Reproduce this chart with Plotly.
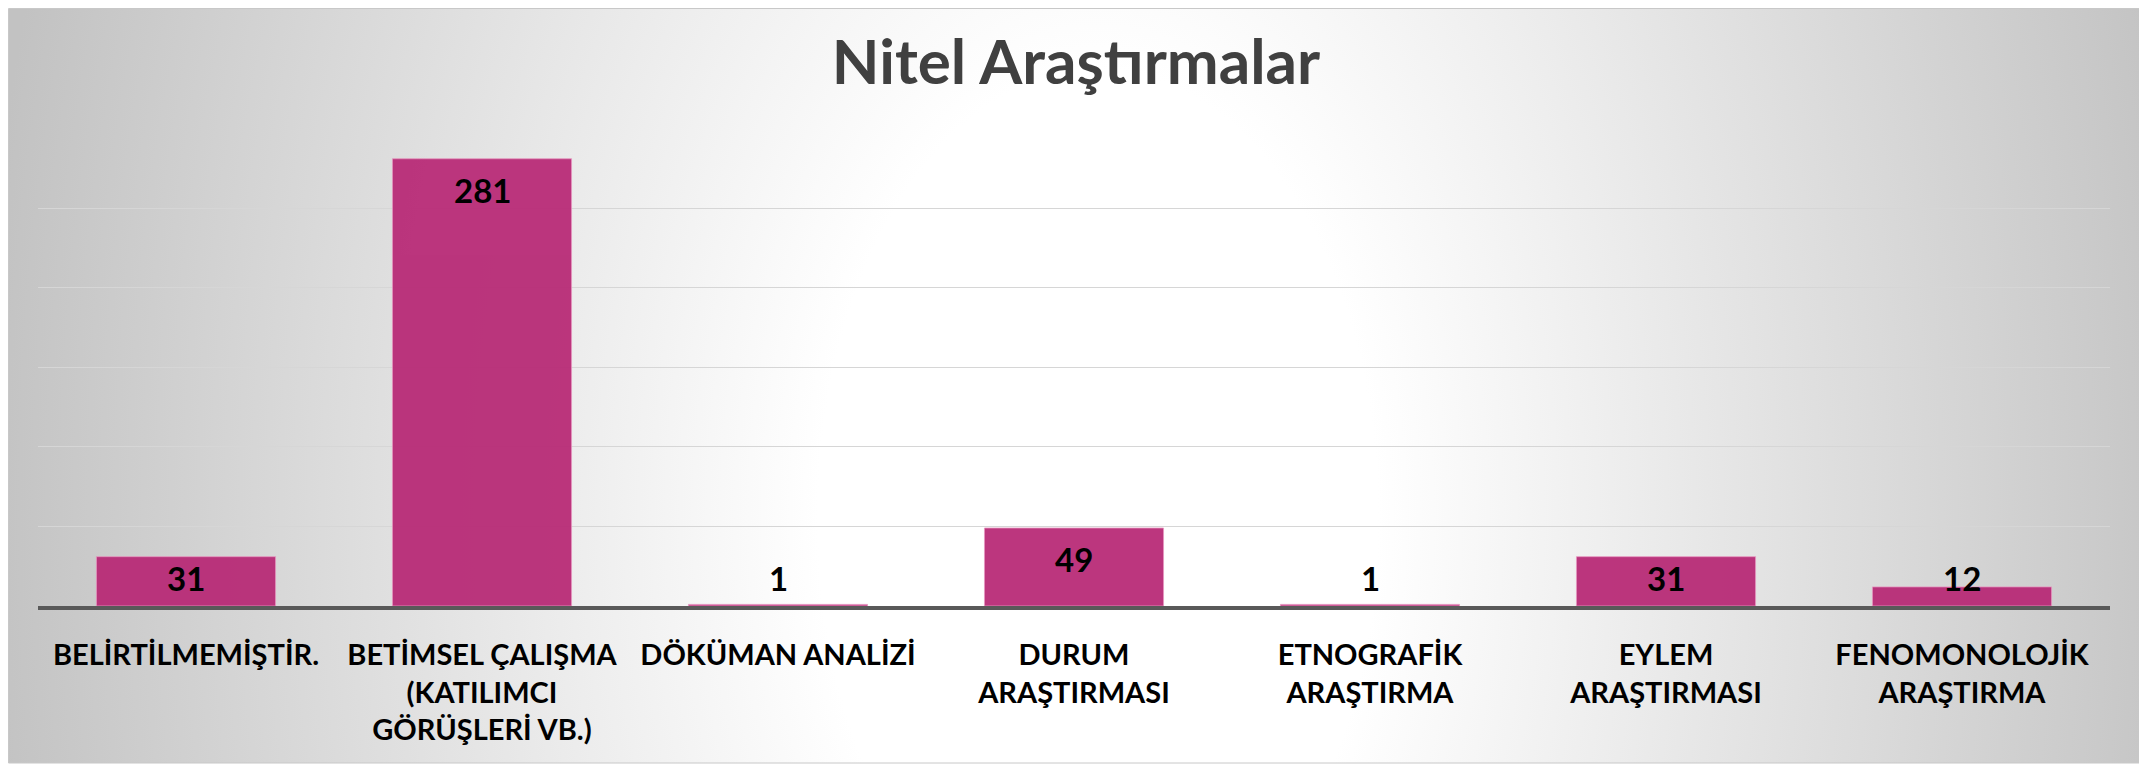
import base64
import plotly.graph_objects as go

# page body has an 8px margin: work in figure px = screen px - OFF
OFF = 8
W, H = 2147 - OFF, 764 - OFF

categories = [
    "BELİRTİLMEMİŞTİR.",
    "BETİMSEL ÇALIŞMA<br>(KATILIMCI<br>GÖRÜŞLERİ VB.)",
    "DÖKÜMAN ANALİZİ",
    "DURUM<br>ARAŞTIRMASI",
    "ETNOGRAFİK<br>ARAŞTIRMA",
    "EYLEM<br>ARAŞTIRMASI",
    "FENOMONOLOJİK<br>ARAŞTIRMA",
]
values = [31, 281, 1, 49, 1, 31, 12]
y_ticks = [0, 50, 100, 150, 200, 250, 300]
title_text = "Nitel Araştırmalar"

FONT = "Lato, 'Open Sans', 'DejaVu Sans', sans-serif"

# plot area in screen pixels -> figure pixels
pl, pr, pt, pb = 38 - OFF, 2110 - OFF, 128.5 - OFF, 606 - OFF
x_dom = [pl / W, pr / W]
y_dom = [(H - pb) / H, (H - pt) / H]

# background gradient (decoration only)
svg = '''<svg xmlns="http://www.w3.org/2000/svg" width="2134" height="756" viewBox="0 0 2134 756" preserveAspectRatio="none">
<defs><radialGradient id="g" gradientUnits="userSpaceOnUse" cx="1090" cy="510" r="1120"
 gradientTransform="translate(1090 510) scale(1 1.6) translate(-1090 -510)">
<stop offset="0" stop-color="#ffffff"/><stop offset="0.25" stop-color="#ffffff"/>
<stop offset="1" stop-color="#c2c2c2"/></radialGradient></defs>
<rect x="0" y="0" width="2134" height="756" fill="url(#g)"/></svg>'''
src = "data:image/svg+xml;base64," + base64.b64encode(svg.encode()).decode()

fig = go.Figure()
fig.add_trace(go.Bar(
    x=categories, y=values,
    marker=dict(color="#B82A76", opacity=0.94, line=dict(color="#E690BD", width=0.8)),
    width=0.605, hoverinfo="skip",
))

# data labels (inside end, clamped above baseline for short bars)
LABEL_MIN = 37
for c, v in zip(categories, values):
    fig.add_annotation(
        x=c, y=max(v, LABEL_MIN), yshift=-31, text=str(v), showarrow=False,
        yanchor="middle", xanchor="center",
        font=dict(family=FONT, size=33, color="black", weight="bold"),
    )

bx0, by0, bx1, by1 = 0.5, 0.5, 2141.5 - OFF, 763 - OFF
fig.add_layout_image(dict(
    source=src, xref="paper", yref="paper",
    x=bx0 / W, y=1 - by0 / H, sizex=(bx1 - bx0) / W, sizey=(by1 - by0) / H,
    xanchor="left", yanchor="top", sizing="stretch", layer="below",
))
fig.add_shape(type="rect", xref="paper", yref="paper",
              x0=bx0 / W, x1=bx1 / W, y0=1 - by1 / H, y1=1 - by0 / H,
              line=dict(color="#C8C8C8", width=1), fillcolor="rgba(0,0,0,0)", layer="below")

fig.update_layout(
    width=W, height=H,
    margin=dict(l=0, r=0, t=0, b=0),
    paper_bgcolor="white", plot_bgcolor="rgba(0,0,0,0)",
    showlegend=False,
    title=dict(text=title_text, x=(1076 - OFF) / W, xanchor="center",
               y=1 - (62 - OFF) / H, yanchor="middle", yref="container",
               font=dict(family=FONT, size=62, color="#404040", weight="bold")),
    xaxis=dict(domain=x_dom, automargin=False, showline=True, linecolor="#595959",
               linewidth=4, showgrid=False, ticks="", ticklabelstandoff=20,
               layer="above traces",
               tickfont=dict(family=FONT, size=29, color="black", weight="bold"),
               fixedrange=True),
    yaxis=dict(domain=y_dom, automargin=False, range=[y_ticks[0], y_ticks[-1]],
               tickvals=y_ticks, showticklabels=False, showgrid=True,
               gridcolor="#D6D6D6", gridwidth=1.2, zeroline=False, showline=False,
               fixedrange=True),
)

fig.write_html("out.html")
